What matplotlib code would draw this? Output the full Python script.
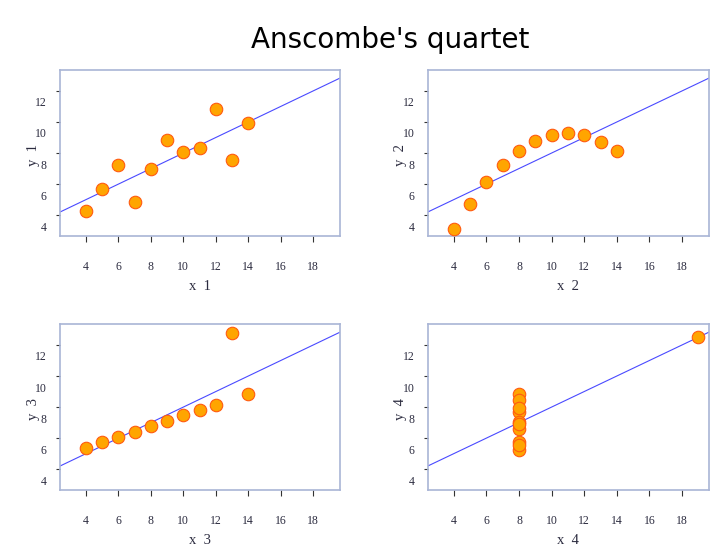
import numpy as np
import matplotlib
matplotlib.use('Agg')
import matplotlib.pyplot as plt
from matplotlib.transforms import ScaledTranslation

# Anscombe's quartet data
x123 = [10, 8, 13, 9, 11, 14, 6, 4, 12, 7, 5]
y1 = [8.04, 6.95, 7.58, 8.81, 8.33, 9.96, 7.24, 4.26, 10.84, 4.82, 5.68]
y2 = [9.14, 8.14, 8.74, 8.77, 9.26, 8.10, 6.13, 3.10, 9.13, 7.26, 4.74]
y3 = [7.46, 6.77, 12.74, 7.11, 7.81, 8.84, 6.08, 5.39, 8.15, 6.42, 5.73]
x4 = [8, 8, 8, 8, 8, 8, 8, 19, 8, 8, 8]
y4 = [6.58, 5.76, 7.71, 8.84, 8.47, 7.04, 5.25, 12.50, 5.56, 7.91, 6.89]

sets = [(x123, y1), (x123, y2), (x123, y3), (x4, y4)]
xticks = [4, 6, 8, 10, 12, 14, 16, 18]
yticks = [4, 6, 8, 10, 12]

fig = plt.figure(figsize=(7.2, 5.47), dpi=100)
fig.text(0.542, 0.927, "Anscombe's quartet", ha='center', va='center',
         fontsize=20, family='DejaVu Sans')

# axes rectangles (left, bottom, width, height) in figure fractions
rects = [
    [0.0833, 0.5686, 0.3889, 0.3035],
    [0.5940, 0.5686, 0.3907, 0.3035],
    [0.0833, 0.1042, 0.3889, 0.3035],
    [0.5940, 0.1042, 0.3907, 0.3035],
]

frame_col = '#a9b5d6'
txt_col = '#2b2b3f'
shift_down = ScaledTranslation(0, -11 / 100, fig.dpi_scale_trans)

for i, ((xs, ys), r) in enumerate(zip(sets, rects)):
    ax = fig.add_axes(r)
    xs = np.array(xs, dtype=float)
    ys = np.array(ys, dtype=float)

    # least squares line, drawn across the whole axes
    slope, icpt = np.polyfit(xs, ys, 1)
    ax.axline((0, icpt), slope=slope, color='#4a4aff', lw=0.8, zorder=2)

    ax.plot(xs, ys, 'o', ms=9, mfc='#ffa500', mec='#ff5a10', mew=0.8, zorder=3)

    ax.set_xlim(2.4, 19.65)
    ax.set_ylim(2.66, 13.35)
    ax.set_xticks(xticks)
    ax.set_yticks(yticks)

    for sp in ax.spines.values():
        sp.set_color(frame_col)
        sp.set_linewidth(1.2)

    ax.tick_params(axis='x', direction='out', length=4, width=0.8, color='#333333',
                   pad=14, labelsize=8.5, labelcolor=txt_col)
    ax.tick_params(axis='y', direction='out', length=3, width=0.8, color='#333333',
                   pad=6.5, labelsize=8.5, labelcolor=txt_col)
    for lab in ax.get_xticklabels() + ax.get_yticklabels():
        lab.set_family('Liberation Serif')
    # y tick labels sit a little below their ticks in the original
    for lab in ax.get_yticklabels():
        lab.set_transform(lab.get_transform() + shift_down)

    n = i + 1
    ax.set_xlabel(f'x  {n}', fontsize=10.5, family='Liberation Serif', color=txt_col)
    ax.set_ylabel(f'y  {n}', fontsize=10.5, family='Liberation Serif', color=txt_col)
    ax.xaxis.set_label_coords(0.5, -0.265)
    ax.yaxis.set_label_coords(-0.072, 0.49)

fig.savefig('out.png', dpi=100)
